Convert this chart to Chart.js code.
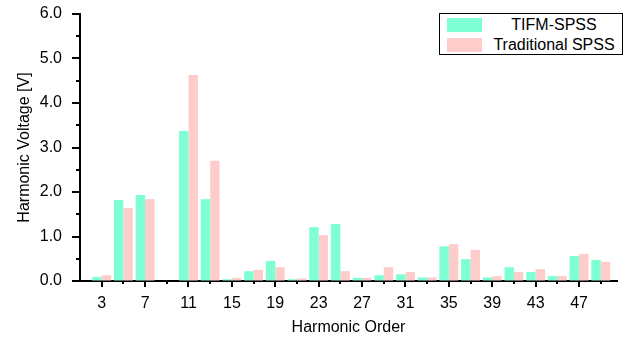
<!DOCTYPE html>
<html>
<head>
<meta charset="utf-8">
<script src="https://cdn.jsdelivr.net/npm/chart.js@4"></script>
<style>
    body { margin: 0; background: #fff; }
    #wrap { position: relative; width: 630px; height: 338px; }
    #legend {
        position: absolute; left: 439px; top: 13px; width: 182px; height: 40px;
        border: 1px solid #000; background: #fff;
        font-family: "Liberation Sans", Arial, sans-serif; font-size: 16px; color: #000;
    }
    .row { position: absolute; left: 0; width: 182px; height: 20px; }
    .sw { position: absolute; left: 7px; top: 3px; width: 35px; height: 14px; }
    .txt { position: absolute; left: 46px; right: 0; top: 0; line-height: 20px; text-align: center; white-space: nowrap; }
</style>
</head>
<body>
<div id="wrap">
    <canvas id="graph" width="630" height="338"></canvas>
    <div id="legend"></div>
</div>
<script>
const canvas = document.getElementById('graph');

// harmonic orders (odd, 3..49)
const orders = [3, 5, 7, 9, 11, 13, 15, 17, 19, 21, 23, 25, 27, 29, 31, 33, 35, 37, 39, 41, 43, 45, 47, 49];
const tifmValues = [0.09, 1.82, 1.93, 0, 3.37, 1.84, 0.04, 0.22, 0.45, 0.04, 1.21, 1.28,
                    0.07, 0.13, 0.15, 0.08, 0.78, 0.49, 0.08, 0.31, 0.20, 0.11, 0.56, 0.47];
const tradValues = [0.13, 1.64, 1.84, 0, 4.63, 2.70, 0.07, 0.25, 0.31, 0.06, 1.03, 0.22,
                    0.07, 0.31, 0.20, 0.08, 0.83, 0.70, 0.11, 0.20, 0.27, 0.11, 0.61, 0.43];
const xLabels = [3, 7, 11, 15, 19, 23, 27, 31, 35, 39, 43, 47];
const yLabels = [0, 1, 2, 3, 4, 5, 6];
const seriesNames = ['TIFM-SPSS', 'Traditional SPSS'];
const seriesColors = ['#7FFFD4', '#FFCCCC'];

const font = "'Liberation Sans', Arial, sans-serif";

function toPoints(values) {
    return orders.map((o, i) => ({x: o, y: values[i]}));
}

// draws major / minor tick marks outward from the axes
const tickMarks = {
    id: 'tickMarks',
    afterDraw(chart) {
        const ctx = chart.ctx;
        const xs = chart.scales.x;
        const ys = chart.scales.y;
        const area = chart.chartArea;
        ctx.save();
        ctx.strokeStyle = '#000';
        ctx.lineWidth = 2;
        ctx.beginPath();
        xs.ticks.forEach(t => {
            const px = Math.round(xs.getPixelForValue(t.value));
            const len = t.label !== '' ? 6 : 3;
            ctx.moveTo(px, area.bottom);
            ctx.lineTo(px, area.bottom + len);
        });
        ys.ticks.forEach(t => {
            const py = Math.round(ys.getPixelForValue(t.value));
            const len = t.label !== '' ? 8 : 4;
            ctx.moveTo(area.left, py);
            ctx.lineTo(area.left - len, py);
        });
        ctx.stroke();
        ctx.restore();
    }
};

const data = {
    datasets: seriesNames.map((name, i) => ({
        label: name,
        data: toPoints(i === 0 ? tifmValues : tradValues),
        backgroundColor: seriesColors[i],
        borderWidth: 0,
        barPercentage: 1.0,
        categoryPercentage: 0.87
    }))
};

const options = {
    responsive: false,
    animation: false,
    layout: {padding: {left: 0, top: 14, right: 13, bottom: 0}},
    plugins: {legend: {display: false}, tooltip: {enabled: false}},
    scales: {
        x: {
            type: 'linear',
            min: 1,
            max: 50.5,
            offset: false,
            afterBuildTicks: scale => {
                scale.ticks = orders.map(v => ({value: v}));
            },
            afterFit: scale => {
                scale.height = 57;
                scale.paddingLeft = 0;
                scale.paddingRight = 0;
            },
            ticks: {
                autoSkip: false,
                maxRotation: 0,
                padding: 7,
                color: '#000',
                font: {family: font, size: 16},
                callback: v => xLabels.includes(v) ? String(v) : ''
            },
            grid: {display: true, drawOnChartArea: false, offset: false, tickLength: 6, tickColor: 'rgba(0,0,0,0)'},
            border: {display: true, color: '#000', width: 2},
            title: {
                display: true,
                text: 'Harmonic Order',
                color: '#000',
                font: {family: font, size: 16},
                padding: 1
            }
        },
        y: {
            type: 'linear',
            min: 0,
            max: 6,
            afterBuildTicks: scale => {
                const t = [];
                for (let i = 0; i < yLabels.length; i++) {
                    t.push({value: yLabels[i]});
                    if (i < yLabels.length - 1) t.push({value: yLabels[i] + 0.5});
                }
                scale.ticks = t;
            },
            afterFit: scale => {
                scale.width = 80;
                scale.paddingTop = 0;
                scale.paddingBottom = 0;
            },
            ticks: {
                padding: 10,
                color: '#000',
                font: {family: font, size: 16},
                callback: v => yLabels.includes(v) ? v.toFixed(1) : ''
            },
            grid: {display: true, drawOnChartArea: false, tickLength: 8, tickColor: 'rgba(0,0,0,0)'},
            border: {display: true, color: '#000', width: 2},
            title: {
                display: true,
                text: 'Harmonic Voltage [V]',
                color: '#000',
                font: {family: font, size: 16},
                padding: 15
            }
        }
    }
};

const chart = new Chart(canvas, {
    type: 'bar',
    data: data,
    options: options,
    plugins: [tickMarks]
});

// legend box built from the datasets
const legend = document.getElementById('legend');
chart.data.datasets.forEach((ds, i) => {
    const row = document.createElement('div');
    row.className = 'row';
    row.style.top = (1 + i * 20) + 'px';
    const sw = document.createElement('div');
    sw.className = 'sw';
    sw.style.background = ds.backgroundColor;
    const txt = document.createElement('div');
    txt.className = 'txt';
    txt.textContent = ds.label;
    row.appendChild(sw);
    row.appendChild(txt);
    legend.appendChild(row);
});
</script>
</body>
</html>
